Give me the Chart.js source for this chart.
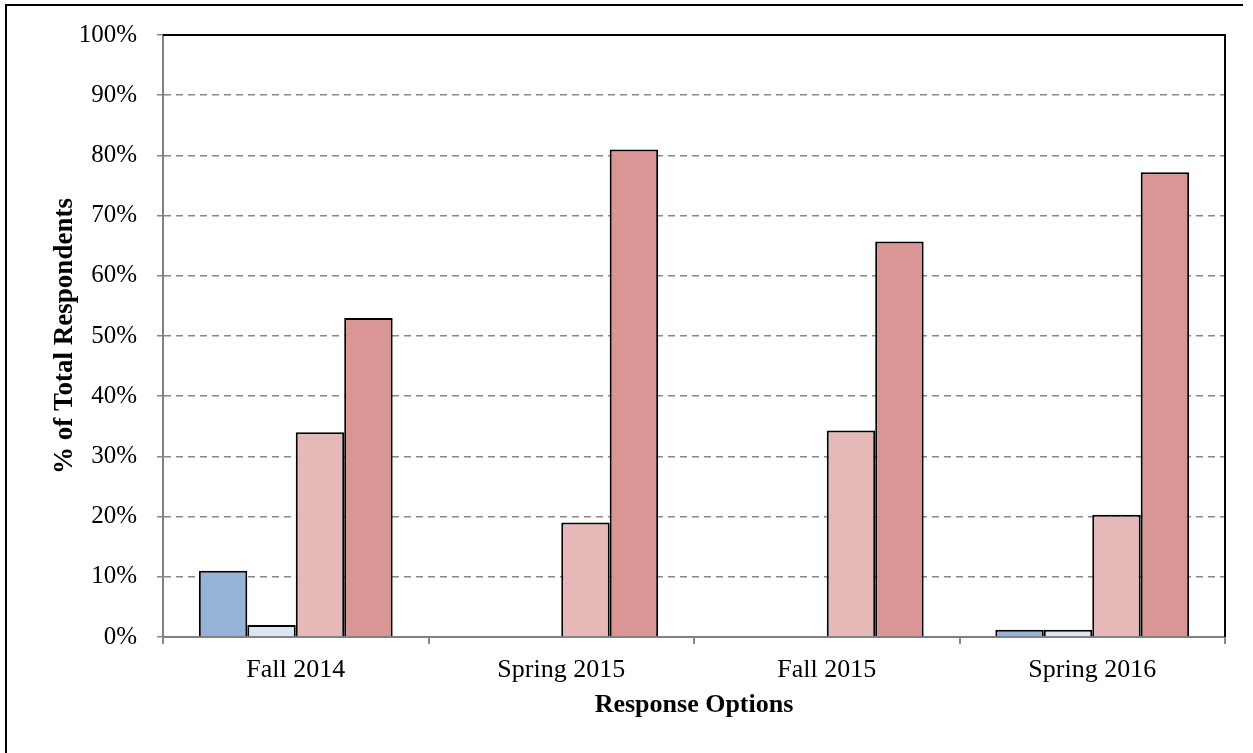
<!DOCTYPE html>
<html>
<head>
<meta charset="utf-8">
<script src="https://cdn.jsdelivr.net/npm/chart.js@4/dist/chart.umd.min.js"></script>
<style>
  html, body { margin: 0; padding: 0; background: #fff; }
  #wrap { width: 1253px; height: 753px; }
</style>
</head>
<body>
<div id="wrap"><canvas id="chart" width="1253" height="753"></canvas></div>
<script>
// Data
const semesters = ['Fall 2014', 'Spring 2015', 'Fall 2015', 'Spring 2016'];
const seriesA = [11, 0, 0, 1.2];
const seriesB = [2, 0, 0, 1.2];
const seriesC = [34, 19, 34.3, 20.3];
const seriesD = [53, 81, 65.7, 77.2];
const yTicks = [0, 10, 20, 30, 40, 50, 60, 70, 80, 90, 100];

const serif = "'Liberation Serif', 'Times New Roman', serif";

// black frame round the picture and top/right edges of the plot
const frame = {
    id: 'frame',
    afterDraw(chart) {
        const ctx = chart.ctx;
        const a = chart.chartArea;
        ctx.save();
        ctx.strokeStyle = '#000';
        ctx.lineWidth = 2;
        ctx.beginPath();
        ctx.moveTo(6, 753);
        ctx.lineTo(6, 5);
        ctx.lineTo(1243, 5);
        ctx.stroke();
        ctx.beginPath();
        ctx.moveTo(a.left, a.top);
        ctx.lineTo(a.right, a.top);
        ctx.lineTo(a.right, a.bottom);
        ctx.stroke();
        ctx.restore();
    }
};

function bar(data, color) {
    return {
        data: data,
        backgroundColor: color,
        borderColor: '#000',
        borderWidth: 2,
        borderSkipped: 'bottom'
    };
}

new Chart(document.getElementById('chart').getContext('2d'), {
    type: 'bar',
    data: {
        labels: semesters,
        datasets: [
            bar(seriesA, '#95B3D7'),
            bar(seriesB, '#DCE6F2'),
            bar(seriesC, '#E6B9B8'),
            bar(seriesD, '#D99694')
        ]
    },
    options: {
        responsive: false,
        animation: false,
        layout: { padding: { top: 35, right: 28, left: 0, bottom: 0 } },
        plugins: { legend: { display: false }, tooltip: { enabled: false } },
        datasets: { bar: { categoryPercentage: 0.73, barPercentage: 1 } },
        scales: {
            x: {
                afterFit(s) { s.height = 116; },
                grid: { offset: true, drawOnChartArea: false, color: '#888', tickLength: 7, lineWidth: 2 },
                border: { color: '#808080', width: 2 },
                ticks: { color: '#000', padding: 11, font: { family: serif, size: 26 } },
                title: {
                    display: true, text: 'Response Options', color: '#000',
                    font: { family: serif, size: 26, weight: 'bold' },
                    padding: { top: 0, bottom: 32 }
                }
            },
            y: {
                min: 0, max: 100,
                afterFit(s) { s.width = 163; },
                afterBuildTicks(s) { s.ticks = yTicks.map(v => ({ value: v })); },
                grid: { color: '#888', tickColor: '#888', tickLength: 6, lineWidth: 1.5 },
                border: { color: '#808080', width: 2, dash: [7, 5] },
                ticks: {
                    color: '#000', padding: 20,
                    font: { family: serif, size: 25 },
                    callback: v => v + '%'
                },
                title: {
                    display: true, text: '% of Total Respondents', color: '#000',
                    font: { family: serif, size: 27, weight: 'bold' },
                    padding: { top: 49, bottom: 0 }
                }
            }
        }
    },
    plugins: [frame]
});
</script>
</body>
</html>
